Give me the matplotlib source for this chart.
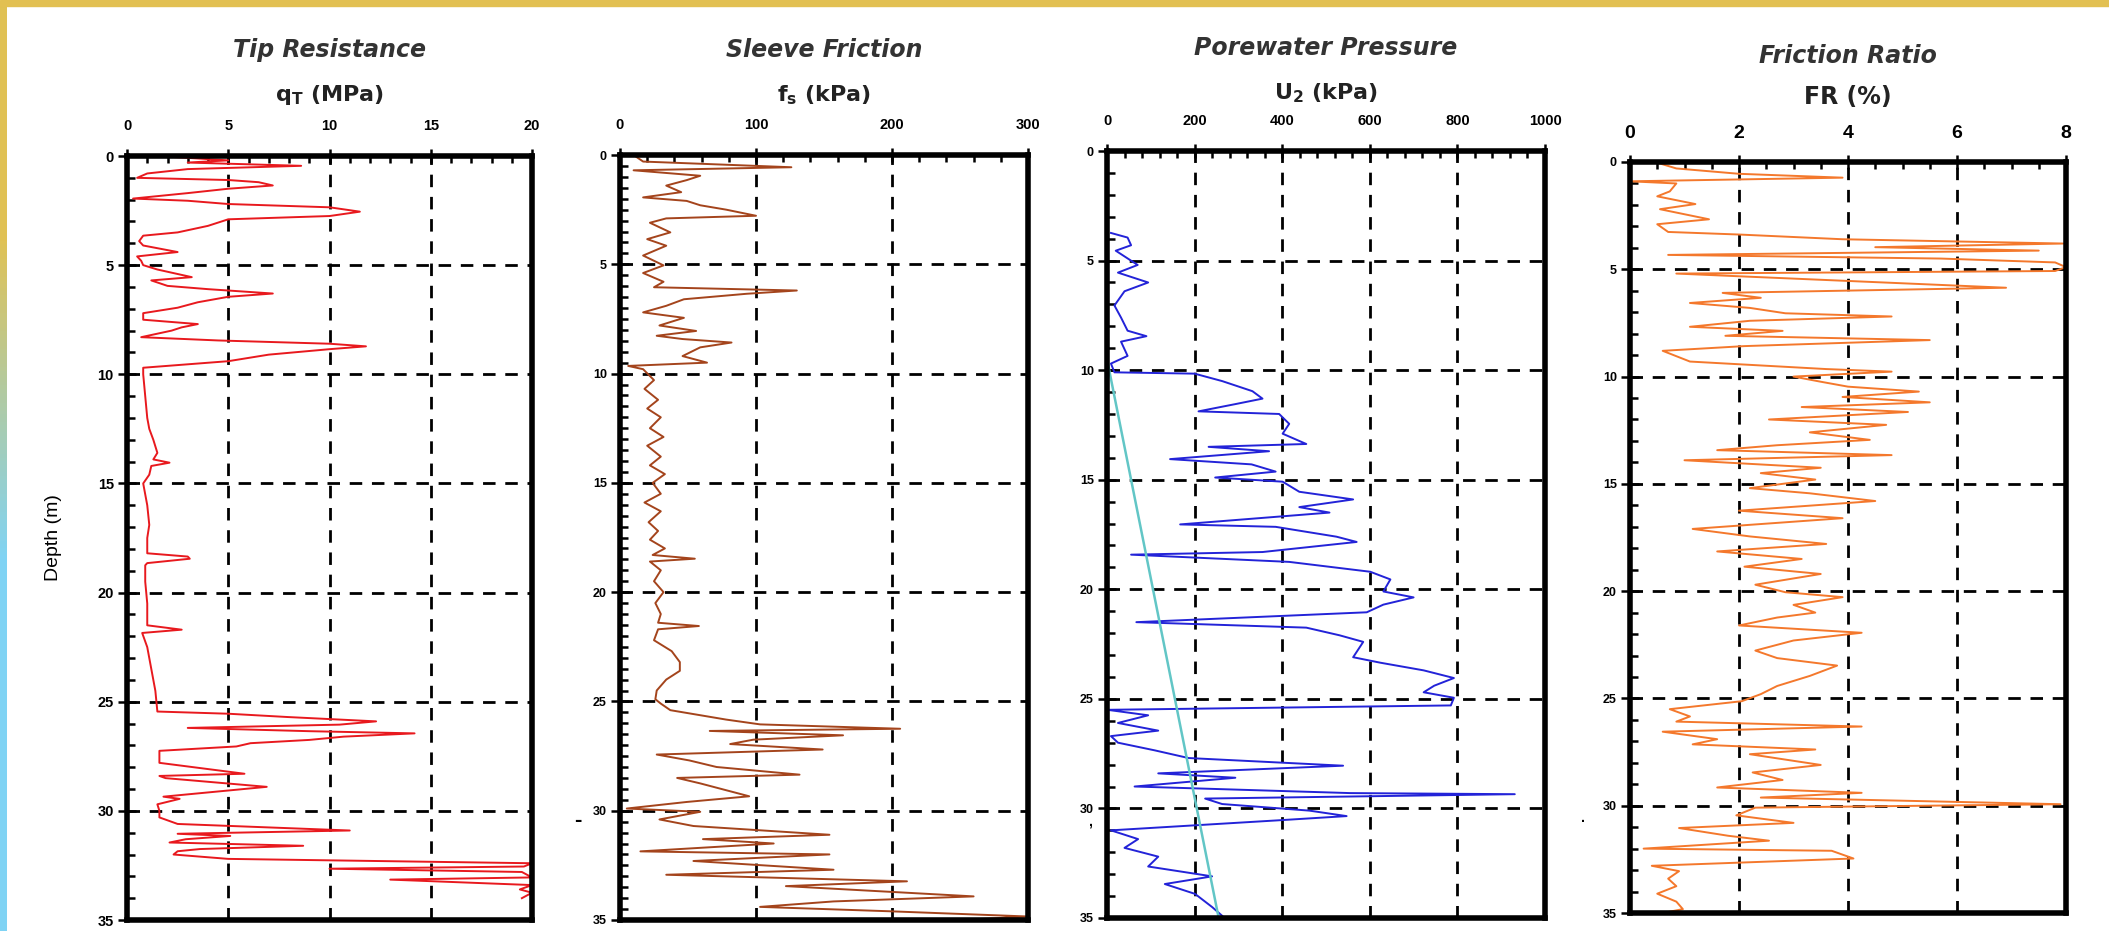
import numpy as np
import matplotlib.pyplot as plt
from matplotlib.patches import Rectangle
from matplotlib.ticker import MultipleLocator

plt.rcParams['font.family'] = 'Liberation Sans'
plt.rcParams['font.weight'] = 'bold'

# (depth m, value) pairs
tip_profile = np.array([
    (0.0, 1.5), (0.2, 5), (0.3, 3), (0.45, 8.6), (0.6, 3), (0.8, 1), (1.0, 0.5), (1.1, 5),
    (1.2, 6.5), (1.35, 7.2), (1.5, 5), (1.7, 3), (1.95, 0.3), (2.05, 3), (2.2, 5), (2.35, 10),
    (2.55, 11.5), (2.75, 10), (2.9, 5), (3.2, 4), (3.5, 2.5), (3.65, 0.8), (3.9, 0.6), (4.1, 0.8),
    (4.4, 2.5), (4.6, 0.5), (4.8, 0.7), (5.0, 0.8), (5.2, 1.5), (5.55, 3.2), (5.7, 1.2), (5.95, 2),
    (6.1, 4), (6.3, 7.2), (6.45, 5), (6.7, 3.5), (6.95, 2.5), (7.2, 0.8), (7.5, 0.8), (7.7, 3.5),
    (7.85, 2.7), (8.0, 2.2), (8.3, 0.7), (8.45, 4.5), (8.6, 10), (8.72, 11.8), (8.85, 10), (9.1, 7),
    (9.4, 5), (9.7, 0.8), (10.0, 0.8), (11.0, 0.9), (12.0, 1.0), (12.5, 1.1), (13.0, 1.3), (13.6, 1.5),
    (13.9, 1.3), (14.05, 2.1), (14.2, 1.2), (14.6, 1.1), (15.0, 0.8), (16.0, 1.0), (16.9, 1.1), (17.5, 1.0),
    (18.2, 1.0), (18.35, 3.0), (18.45, 3.1), (18.65, 1.0), (18.75, 0.9), (19.5, 0.9), (20.5, 1.0), (21.5, 1.0),
    (21.7, 2.7), (21.85, 0.75), (22.5, 1.0), (23.5, 1.2), (24.5, 1.4), (25.45, 1.5), (25.55, 5), (25.7, 7.9),
    (25.9, 12.3), (26.05, 10.5), (26.2, 3), (26.35, 9), (26.45, 14.2), (26.6, 10.7), (26.75, 9), (26.9, 6.1),
    (27.05, 5.4), (27.25, 1.6), (27.45, 1.6), (27.8, 1.6), (28.3, 5.8), (28.4, 1.6), (28.5, 1.9), (28.9, 6.9),
    (29.35, 1.8), (29.45, 2.6), (29.7, 1.5), (30.0, 1.6), (30.3, 1.6), (30.6, 2.5), (30.9, 11), (31.05, 2.5),
    (31.15, 5.1), (31.3, 2.9), (31.45, 2.1), (31.6, 8.7), (31.75, 3.6), (31.85, 2.5), (32.0, 2.3), (32.2, 5),
    (32.4, 20), (32.55, 19.6), (32.65, 10), (32.8, 19.5), (33.05, 20), (33.15, 13), (33.4, 20), (33.6, 19.4),
    (33.75, 20), (34.0, 19.5),
])

sleeve_profile = np.array([
    (0, 10), (0.3, 17), (0.56, 126), (0.7, 10), (0.95, 59), (1.15, 49), (1.4, 34), (1.7, 45),
    (1.94, 17), (2.1, 49), (2.3, 59), (2.5, 78), (2.78, 100), (2.9, 34), (3.1, 22), (3.54, 37),
    (3.85, 20), (4.15, 34), (4.6, 17), (5.05, 32), (5.4, 17), (5.8, 32), (6.05, 25), (6.2, 130),
    (6.35, 93), (6.6, 47), (6.9, 34), (7.2, 17), (7.45, 47), (7.8, 29), (8.05, 56), (8.27, 27),
    (8.42, 46), (8.58, 82), (8.8, 59), (9.2, 46), (9.5, 64), (9.65, 6), (9.8, 17), (10.3, 25),
    (10.7, 18), (11.2, 28), (11.6, 20), (12.0, 30), (12.5, 22), (12.9, 32), (13.3, 20), (13.8, 30),
    (14.2, 22), (14.6, 33), (15.0, 24), (15.5, 30), (15.9, 18), (16.3, 30), (16.8, 21), (17.2, 28),
    (17.6, 22), (18.0, 33), (18.3, 24), (18.47, 55), (18.6, 22), (19.0, 30), (19.5, 25), (20.0, 32),
    (20.5, 26), (21.0, 30), (21.4, 28), (21.55, 58), (21.7, 28), (22.2, 25), (22.7, 38), (23.2, 44),
    (23.6, 44), (24.0, 34), (24.5, 27), (24.9, 26), (25.1, 30), (25.4, 37), (25.83, 78), (26.05, 103),
    (26.25, 206), (26.35, 66), (26.55, 164), (26.75, 98), (26.95, 81), (27.2, 149), (27.43, 27), (27.7, 51),
    (28.0, 71), (28.35, 132), (28.5, 42), (28.75, 59), (29.34, 95), (29.6, 49), (29.9, 5), (30.05, 59),
    (30.4, 29), (30.7, 54), (31.1, 154), (31.3, 61), (31.5, 113), (31.86, 15), (32.0, 154), (32.3, 54),
    (32.7, 157), (32.93, 34), (33.23, 211), (33.45, 122), (33.92, 260), (34.15, 157), (34.4, 103), (34.6, 198),
    (34.84, 300), (35.0, 250),
])

pore_profile = np.array([
    (3.74, 9), (3.95, 47), (4.3, 55), (4.55, 20), (5.2, 70), (5.55, 25), (6.0, 94), (6.4, 40),
    (7.05, 17), (7.6, 32), (8.2, 47), (8.45, 90), (8.7, 32), (9.35, 47), (9.7, 9), (10.1, 17),
    (10.16, 200), (10.5, 263), (10.96, 332), (11.3, 355), (11.55, 293), (11.88, 209), (12.0, 393), (12.45, 416),
    (12.9, 401), (13.37, 455), (13.5, 232), (13.7, 370), (14.06, 144), (14.3, 330), (14.63, 385), (14.9, 247),
    (15.09, 401), (15.55, 439), (15.9, 562), (16.25, 439), (16.5, 508), (17.04, 167), (17.15, 385), (17.6, 524),
    (17.84, 570), (18.3, 355), (18.42, 55), (18.75, 416), (19.2, 601), (19.55, 647), (20.1, 631), (20.37, 700),
    (20.7, 631), (21.05, 593), (21.5, 67), (21.75, 455), (22.1, 531), (22.4, 585), (23.1, 562), (23.35, 624),
    (23.7, 723), (24.05, 792), (24.4, 747), (24.7, 723), (24.95, 792), (25.3, 785), (25.5, 1), (25.75, 94),
    (26.1, 25), (26.45, 117), (26.7, 9), (27.0, 25), (27.35, 109), (27.7, 186), (28.05, 539), (28.4, 117),
    (28.6, 293), (29.0, 63), (29.3, 555), (29.35, 931), (29.55, 224), (29.8, 263), (30.1, 462), (30.35, 547),
    (30.55, 385), (31.0, 9), (31.4, 71), (31.8, 40), (32.2, 117), (32.65, 94), (33.1, 240), (33.45, 132),
    (33.9, 201), (34.5, 240), (34.9, 263),
])

ratio_profile = np.array([
    (0.07, 0.55), (0.3, 0.85), (0.55, 2.0), (0.73, 3.9), (0.9, 0), (1.0, 0.85), (1.37, 0.73), (1.6, 0.5),
    (1.96, 1.2), (2.2, 0.55), (2.67, 1.45), (2.9, 0.5), (3.26, 0.7), (3.38, 2.0), (3.6, 3.9), (3.8, 7.95),
    (3.97, 4.5), (4.13, 7.5), (4.33, 0.7), (4.5, 5.7), (4.68, 7.8), (4.9, 8.0), (5.08, 7.8), (5.2, 0.85),
    (5.5, 3.6), (5.86, 6.9), (6.1, 1.7), (6.33, 2.4), (6.57, 1.1), (6.8, 2.2), (7.05, 2.85), (7.2, 4.8),
    (7.4, 2.2), (7.68, 1.1), (7.87, 2.8), (8.1, 1.75), (8.3, 5.5), (8.58, 2.1), (8.8, 0.6), (9.3, 1.1),
    (9.65, 3.6), (9.77, 4.8), (10.0, 3.0), (10.24, 3.5), (10.47, 4.0), (10.7, 5.3), (10.95, 3.9), (11.2, 5.5),
    (11.42, 3.15), (11.65, 5.1), (12.0, 2.55), (12.25, 4.7), (12.6, 3.3), (12.95, 4.4), (13.2, 2.7), (13.43, 1.6),
    (13.66, 4.8), (13.9, 1.0), (14.25, 3.5), (14.5, 2.4), (14.8, 3.4), (15.2, 2.2), (15.44, 3.3), (15.8, 4.5),
    (16.25, 2.0), (16.6, 3.9), (17.1, 1.15), (17.45, 2.2), (17.8, 3.6), (18.15, 1.6), (18.5, 3.15), (18.86, 2.1),
    (19.2, 3.5), (19.7, 2.3), (20.05, 2.85), (20.28, 3.9), (20.64, 3.0), (21.0, 3.4), (21.23, 2.7), (21.6, 2.0),
    (21.94, 4.25), (22.3, 3.0), (22.77, 2.3), (23.12, 2.7), (23.47, 3.8), (23.95, 3.3), (24.42, 2.7), (24.8, 2.4),
    (25.13, 2.05), (25.5, 0.73), (25.84, 1.1), (26.08, 0.85), (26.31, 4.25), (26.55, 0.6), (26.9, 1.6), (27.14, 1.15),
    (27.38, 3.4), (27.6, 2.2), (28.1, 3.5), (28.45, 2.25), (28.8, 2.8), (29.15, 1.6), (29.4, 4.25), (29.62, 2.4),
    (29.93, 7.9), (30.09, 2.3), (30.45, 1.95), (30.8, 3.0), (31.04, 0.9), (31.4, 1.8), (31.63, 2.55), (32.0, 0.25),
    (32.1, 3.7), (32.46, 4.1), (32.8, 0.4), (33.05, 0.9), (33.4, 0.7), (33.75, 0.85), (34.1, 0.5), (34.47, 0.85),
    (34.82, 0.97), (35.0, 0.6),
])

# hydrostatic line on the porewater log
hydro_depth = [0, 9.5, 35]
hydro_u = [0, 0, 255]

titles = ["Tip Resistance", "Sleeve Friction", "Porewater Pressure", "Friction Ratio"]
xlabels = [r"q$_\mathregular{T}$ (MPa)", r"f$_\mathregular{s}$ (kPa)",
           r"U$_\mathregular{2}$ (kPa)", "FR (%)"]
x_max = [20, 300, 1000, 8]
x_major = [5, 100, 200, 2]
x_minor = [1, 20, 40, 0.5]
colors = ['#E8191E', '#A4441C', '#2323D8', '#F4782C']
profiles = [tip_profile, sleeve_profile, pore_profile, ratio_profile]
depth_max = 35

W, H = 2109, 931
fig = plt.figure(figsize=(W / 100, H / 100), dpi=100)
fig.patch.set_facecolor('white')

# slide frame: gold strip on top, gold-to-blue strip on the left
fig.patches.append(Rectangle((0, 1 - 6 / H), 1, 6 / H, transform=fig.transFigure,
                             color='#E2C052', zorder=0))
bar = fig.add_axes([0, 0, 7 / W, 1 - 6 / H])
grad = np.linspace(0, 1, 256)[:, None]
gold = np.array([0.88, 0.76, 0.33])
blue = np.array([0.50, 0.83, 0.96])
t = np.clip((grad - 0.25) / 0.35, 0, 1)
bar.imshow((gold * (1 - t) + blue * t)[:, None, :].reshape(256, 1, 3), aspect='auto')
bar.set_axis_off()

# axes boxes in pixels: left, top, right, bottom
boxes = [(127, 156, 532, 920), (620, 155, 1028, 920), (1107, 151, 1545, 918), (1630, 162, 2066, 913)]
title_y = [50, 50, 48, 56]
label_y = [95, 95, 93, 97]

for i, (l, t_, r, b) in enumerate(boxes):
    ax = fig.add_axes([l / W, 1 - b / H, (r - l) / W, (b - t_) / H])
    prof = profiles[i]
    ax.plot(prof[:, 1], prof[:, 0], color=colors[i], lw=1.4, zorder=3, clip_on=False)
    if i == 2:
        ax.plot(hydro_u, hydro_depth, color='#62C6C6', lw=1.8, zorder=4)

    ax.set_xlim(0, x_max[i])
    ax.set_ylim(depth_max, 0)
    ax.xaxis.tick_top()
    ax.xaxis.set_major_locator(MultipleLocator(x_major[i]))
    ax.xaxis.set_minor_locator(MultipleLocator(x_minor[i]))
    ax.yaxis.set_major_locator(MultipleLocator(5))
    ax.yaxis.set_minor_locator(MultipleLocator(0.5 if i == 1 else 1))

    ax.grid(True, which='major', color='black', lw=2, linestyle=(0, (4.5, 3.5)))
    ax.set_axisbelow(True)
    for s in ax.spines.values():
        s.set_linewidth(4)
        s.set_zorder(5)

    xsize = 14 if i == 3 else 10.5
    ax.tick_params(axis='x', which='major', direction='inout', length=9.5, width=1.8,
                   labelsize=xsize, pad=12 if i < 3 else 10)
    ax.tick_params(axis='y', which='major', direction='inout', length=13, width=1.8,
                   labelsize=10.5 if i == 0 else 9, pad=3)
    ax.tick_params(axis='x', which='minor', direction='in', length=5, width=1.8)
    ax.tick_params(axis='y', which='minor', direction='in', length=6, width=1.8)

    cx = (l + r) / 2
    fig.text(cx / W, 1 - title_y[i] / H, titles[i], ha='center', va='center',
             family='DejaVu Sans', style='italic', weight='bold', fontsize=17, color='#333333')
    fig.text(cx / W, 1 - label_y[i] / H, xlabels[i], ha='center', va='center',
             family='DejaVu Sans', weight='bold', fontsize=16 if i < 3 else 17, color='#222222')

fig.text(54 / W, 1 - 538 / H, "Depth (m)", rotation=90, ha='center', va='center',
         fontsize=14, weight='normal', color='black')

# small stray marks in the original scan
fig.text(578 / W, 1 - 820 / H, "-", ha='center', va='center', fontsize=16, weight='bold')
fig.text(1090 / W, 1 - 822 / H, ",", ha='center', va='center', fontsize=10)
fig.text(1583 / W, 1 - 818 / H, ".", ha='center', va='center', fontsize=10)

fig.savefig('out.png', dpi=100)
